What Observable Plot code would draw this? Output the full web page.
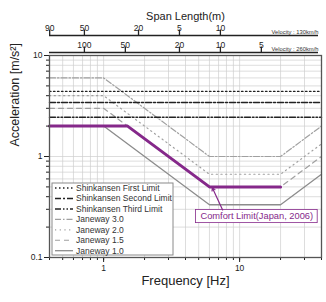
<!DOCTYPE html>
<html><head><meta charset="utf-8">
<script src="https://cdn.jsdelivr.net/npm/d3@7"></script>
<script src="https://cdn.jsdelivr.net/npm/@observablehq/plot@0.6"></script>
<style>body{margin:0;background:#fff} svg{font-family:"Liberation Sans",Arial,sans-serif}</style>
</head><body><div id="chart"></div>
<script>
// ---- data ----
const freqJaneway = [0.4, 1, 6, 20, 40];
const janeway10 = [2, 2, 0.333, 0.333, 0.667];
const janeway15 = [3, 3, 0.5, 0.5, 1.0];
const janeway20 = [4, 4, 0.667, 0.667, 1.333];
const janeway30 = [6, 6, 1, 1, 2];
const freqComfort = [0.4, 1.5, 6, 20];
const comfortJapan = [2, 2, 0.5, 0.5];
const freqShinkansen = [0.4, 40];
const shinkansenFirst = [4.41, 4.41];
const shinkansenSecond = [3.43, 3.43];
const shinkansenThird = [2.45, 2.45];
const span130 = [90, 50, 20, 10, 5];
const span130Labels = ["90", "50", "20", "5", "10"];
const span260 = [100, 50, 20, 10, 5];
const span260Labels = ["100", "50", "20", "10", "5"];
const velocity130 = 130, velocity260 = 260;
const xMinorTicks = [0.4,0.5,0.6,0.7,0.8,0.9,1,2,3,4,5,6,7,8,9,10,20,30,40];
const xMajorTicks = [1, 10];
const yMinorTicks = [0.1,0.2,0.3,0.4,0.5,0.6,0.7,0.8,0.9,1,2,3,4,5,6,7,8,9,10];
const yMajorTicks = [0.1, 1, 10];
const annotation = {text: "Comfort Limit(Japan, 2006)", x1: 4.77, x2: 37.5, y1: 0.219, y2: 0.296, fromX: 7.5, fromY: 0.296, toX: 6.3, toY: 0.49};

// ---- build ----
const toRows = (fs, as) => fs.map((f, i) => ({f, a: as[i]}));
const purple = "#85288a";
const series = [
  {name: "Shinkansen First Limit", rows: toRows(freqShinkansen, shinkansenFirst), stroke: "#222", dash: "1.5,2.5", w: 1.3},
  {name: "Shinkansen Second Limit", rows: toRows(freqShinkansen, shinkansenSecond), stroke: "#222", dash: "6,2,2,2", w: 1.5},
  {name: "Shinkansen Third Limit", rows: toRows(freqShinkansen, shinkansenThird), stroke: "#222", dash: "6,2,1.5,2,1.5,2", w: 1.5},
  {name: "Janeway 3.0", rows: toRows(freqJaneway, janeway30), stroke: "#a0a0a0", dash: "6,2,1.5,2", w: 1.2},
  {name: "Janeway 2.0", rows: toRows(freqJaneway, janeway20), stroke: "#a0a0a0", dash: "1.2,3.5", w: 1.2},
  {name: "Janeway 1.5", rows: toRows(freqJaneway, janeway15), stroke: "#a0a0a0", dash: "5,4", w: 1.2},
  {name: "Janeway 1.0", rows: toRows(freqJaneway, janeway10), stroke: "#8c8c8c", dash: null, w: 1.3}
];
const fOf = (v, L) => v / 3.6 / L;
const top130 = span130.map((L, i) => ({f: fOf(velocity130, L), label: span130Labels[i]}));
const top260 = span260.map((L, i) => ({f: fOf(velocity260, L), label: span260Labels[i]}));

const tickUp = {draw(context) { context.moveTo(0, 0); context.lineTo(0, -6); }};

const lineMarks = series.slice().reverse().map(s => Plot.line(s.rows, {x: "f", y: "a", stroke: s.stroke, strokeWidth: s.w, strokeDasharray: s.dash}));

const topAxis = (rows, dy) => [
  Plot.ruleY([10], {dy, stroke: "#222", strokeWidth: 1.4, insetRight: 3}),
  Plot.dot(rows, {x: "f", frameAnchor: "top", dy, symbol: tickUp, stroke: "#222", strokeWidth: 1.3, fill: "none", r: 3}),
  Plot.text(rows, {x: "f", text: "label", frameAnchor: "top", dy: dy - 5, lineAnchor: "bottom", fontSize: 8.5, fill: "#222"})
];

const chart = Plot.plot({
  width: 326, height: 302,
  marginLeft: 49, marginRight: 5, marginTop: 55, marginBottom: 45,
  x: {type: "log", domain: [0.4, 40], label: null},
  y: {type: "log", domain: [0.1, 10], label: null},
  style: {fontFamily: "'Liberation Sans', Arial, sans-serif", fontSize: "8px", color: "#222", background: "white", overflow: "visible"},
  marks: [
    Plot.gridX(xMinorTicks, {stroke: "#cfcfcf", strokeOpacity: 1, strokeWidth: 0.7}),
    Plot.gridY(yMinorTicks, {stroke: "#cfcfcf", strokeOpacity: 1, strokeWidth: 0.7}),
    ...lineMarks,
    Plot.line(toRows(freqComfort, comfortJapan), {x: "f", y: "a", stroke: purple, strokeWidth: 3}),
    Plot.rect([annotation], {x1: "x1", x2: "x2", y1: "y1", y2: "y2", fill: "white", stroke: purple, strokeWidth: 0.8}),
    Plot.text([annotation], {x: d => Math.sqrt(d.x1 * d.x2), y: d => Math.sqrt(d.y1 * d.y2), text: "text", fill: purple, fontSize: 9.3}),
    Plot.arrow([annotation], {x1: "fromX", y1: "fromY", x2: "toX", y2: "toY", stroke: purple, strokeWidth: 1.2, headLength: 4}),
    Plot.axisX(xMinorTicks, {anchor: "bottom", tickSize: 3, tickFormat: () => "", label: null}),
    Plot.axisX(xMajorTicks, {anchor: "bottom", tickSize: 5, tickPadding: 2, tickFormat: d => String(d), label: null, fontSize: 8.5}),
    Plot.axisY(yMinorTicks, {anchor: "left", tickSize: 3, tickFormat: () => "", label: null}),
    Plot.axisY(yMajorTicks, {anchor: "left", tickSize: 5, tickPadding: 2, tickFormat: d => String(d), label: null, fontSize: 8.5}),
    ...topAxis(top260, -3),
    ...topAxis(top130, -20),
    Plot.frame({stroke: "#555", strokeWidth: 1.3}),
    Plot.text(["Velocity : 130km/h"], {text: d => d, frameAnchor: "top-right", textAnchor: "end", lineAnchor: "bottom", dx: -3, dy: -21.5, fontSize: 5.8, fill: "#333"}),
    Plot.text(["Velocity : 260km/h"], {text: d => d, frameAnchor: "top-right", textAnchor: "end", lineAnchor: "bottom", dx: -3, dy: -4.5, fontSize: 5.8, fill: "#333"}),
    Plot.text(["Span Length(m)"], {text: d => d, frameAnchor: "top", dy: -43, fontSize: 11, fill: "#222"}),
    Plot.text(["Frequency [Hz]"], {text: d => d, frameAnchor: "bottom", dy: 27, fontSize: 13, fill: "#222"}),
    Plot.text(["Acceleration [m/s²]"], {text: d => d, frameAnchor: "left", rotate: -90, dx: -35, dy: -10, fontSize: 12.5, fill: "#222"})
  ]
});
document.getElementById("chart").appendChild(chart);

// ---- legend (inside plot, lower left) ----
const svg = d3.select(chart);
const lg = svg.append("g").attr("transform", "translate(52,183)");
lg.append("rect").attr("width", 121).attr("height", 72).attr("fill", "white").attr("stroke", "#8a8a8a").attr("stroke-width", 1);
series.forEach((s, i) => {
  const y = 5 + i * 10.45;
  lg.append("line").attr("x1", 3).attr("x2", 21).attr("y1", y).attr("y2", y)
    .attr("stroke", s.stroke).attr("stroke-width", s.w).attr("stroke-dasharray", s.dash);
  lg.append("text").attr("x", 24).attr("y", y).attr("dy", "0.35em").attr("text-anchor", "start")
    .attr("font-size", 8.5).attr("fill", "#333").text(s.name);
});
</script></body></html>
